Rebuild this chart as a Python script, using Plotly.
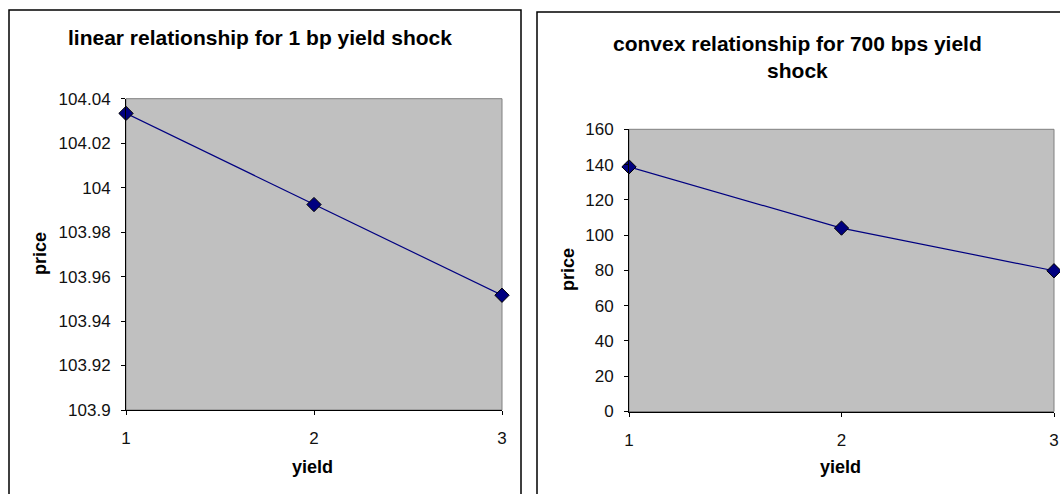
import plotly.graph_objects as go

W, H = 1060, 494

yield_pts = [1, 2, 3]
price_1bp = [104.0334, 103.9924, 103.9516]
price_700bp = [138.7, 103.99, 79.8]

left_yticks = [103.9, 103.92, 103.94, 103.96, 103.98, 104.0, 104.02, 104.04]
left_yticktext = ["103.9", "103.92", "103.94", "103.96", "103.98", "104", "104.02", "104.04"]
right_yticks = [0, 20, 40, 60, 80, 100, 120, 140, 160]
x_ticks = [1, 2, 3]

FONT = "Liberation Sans, Arial, sans-serif"
NAVY = "#000080"


def px(x):
    return x / W


def py(y):
    return 1 - y / H


fig = go.Figure()

for xa, ya, vals in [("x", "y", price_1bp), ("x2", "y2", price_700bp)]:
    fig.add_trace(go.Scatter(
        x=yield_pts, y=vals, xaxis=xa, yaxis=ya, mode="lines+markers",
        line=dict(color=NAVY, width=1.2),
        marker=dict(symbol="diamond", size=11, color=NAVY, line=dict(color="black", width=1)),
        cliponaxis=False, showlegend=False, hoverinfo="x+y",
    ))

axis_common = dict(
    showgrid=False, zeroline=False, showline=True, linecolor="black", linewidth=1,
    ticks="outside", ticklen=4, tickcolor="black",
    tickfont=dict(family=FONT, size=17, color="#111111"),
)
xax = dict(range=[1, 3], tickvals=x_ticks, ticklabelstandoff=9, **axis_common)
yax = dict(ticklabelstandoff=7, **axis_common)

fig.update_layout(
    width=W, height=H,
    margin=dict(l=0, r=0, t=0, b=0, autoexpand=False),
    paper_bgcolor="white",
    plot_bgcolor="#C0C0C0",
    xaxis=dict(domain=[px(126), px(502)], anchor="y", **xax),
    yaxis=dict(domain=[py(410), py(98.7)], range=[103.9, 104.04], tickvals=left_yticks,
               ticktext=left_yticktext, anchor="x", **yax),
    xaxis2=dict(domain=[px(629), px(1054)], anchor="y2", **xax),
    yaxis2=dict(domain=[py(411.5), py(129.3)], range=[0, 160], tickvals=right_yticks, anchor="x2", **yax),
)

# plot area gray borders
for xr, yr in [("x domain", "y domain"), ("x2 domain", "y2 domain")]:
    fig.add_shape(type="rect", xref=xr, yref=yr, x0=0, x1=1, y0=0, y1=1,
                  line=dict(color="#808080", width=1), layer="below")

# chart boxes
fig.add_shape(type="rect", xref="paper", yref="paper", x0=px(9), x1=px(521), y0=py(520), y1=py(10),
              line=dict(color="black", width=1.5))
fig.add_shape(type="rect", xref="paper", yref="paper", x0=px(537), x1=px(1080), y0=py(520), y1=py(12),
              line=dict(color="black", width=1.5))

ann = []
ann.append(dict(text="<b>linear relationship for 1 bp yield shock</b>", x=px(260), y=py(38),
                font=dict(family=FONT, size=21, color="black")))
ann.append(dict(text="<b>convex relationship for 700 bps yield<br>shock</b>", x=px(797), y=py(57),
                font=dict(family=FONT, size=21, color="black")))
for xc, yc in [(40, 254), (568, 270)]:
    ann.append(dict(text="<b>price</b>", x=px(xc), y=py(yc), textangle=-90,
                    font=dict(family=FONT, size=18, color="black")))
for xc in [312, 840]:
    ann.append(dict(text="<b>yield</b>", x=px(xc), y=py(467),
                    font=dict(family=FONT, size=18, color="black")))
for a in ann:
    a.update(xref="paper", yref="paper", showarrow=False, xanchor="center", yanchor="middle")
fig.update_layout(annotations=ann)

fig.write_html("out.html")
